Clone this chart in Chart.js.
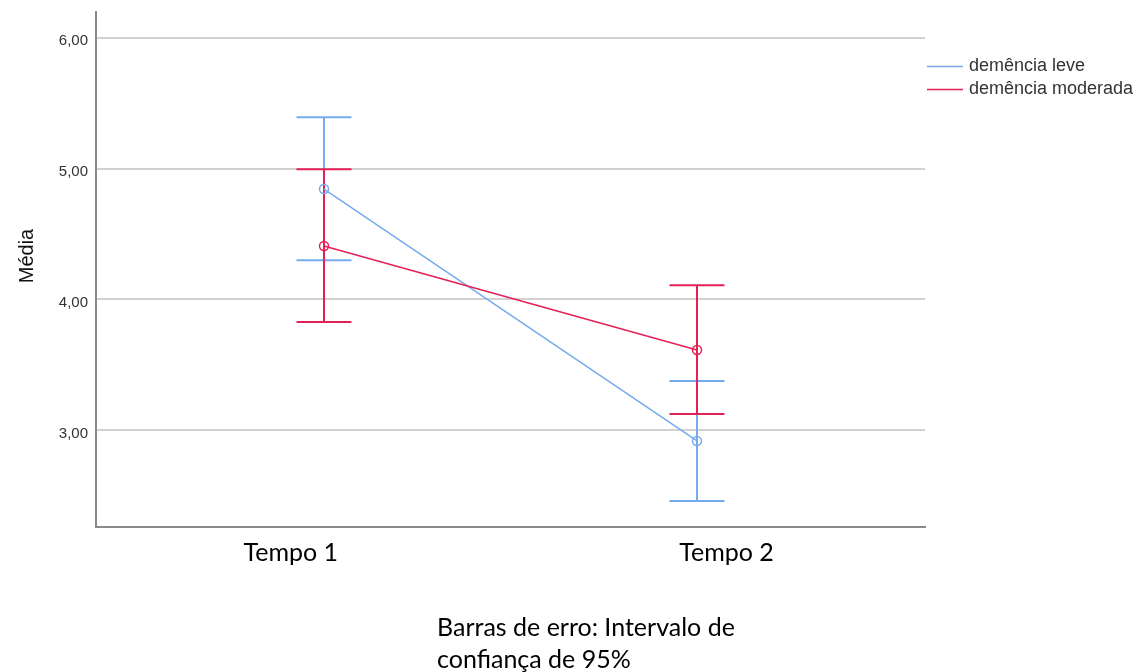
<!DOCTYPE html>
<html>
<head>
<meta charset="utf-8">
<script src="https://cdn.jsdelivr.net/npm/chart.js@4.4.1/dist/chart.umd.min.js"></script>
<style>
html,body{margin:0;padding:0;background:#fff;}
#wrap{position:relative;width:1144px;height:672px;}
</style>
</head>
<body>
<div id="wrap"><canvas id="c" width="1144" height="672"></canvas></div>
<script>
// ---- data ----
const categories = ['Tempo 1', 'Tempo 2'];
const xPositions = [1, 2];
const seriesNames = ['demência leve', 'demência moderada'];
const leveMean  = [4.843, 2.920];
const leveLower = [4.299, 2.462];
const leveUpper = [5.391, 3.378];
const modMean   = [4.408, 3.615];
const modLower  = [3.828, 3.126];
const modUpper  = [4.995, 4.108];
const yTicks = [3, 4, 5, 6];
const footnoteLines = ['Barras de erro: Intervalo de', 'confiança de 95%'];
const yTitle = 'Média';

const BLUE = 'rgb(117,170,236)';
const RED = 'rgb(228,32,84)';

function meanData(m) { return xPositions.map((x, i) => ({x: x, y: m[i]})); }
function errData(lo, hi) {
  const out = [];
  xPositions.forEach((x, i) => {
    out.push({x: x, y: lo[i]});
    out.push({x: x, y: hi[i]});
    out.push({x: x + 0.5, y: null});
  });
  return out;
}

const extras = {
  id: 'extras',
  afterDraw(chart) {
    const ctx = chart.ctx, ca = chart.chartArea;
    ctx.save();
    // legend
    const colors = [BLUE, RED];
    ctx.font = '18px "Liberation Sans", Arial, sans-serif';
    ctx.textBaseline = 'middle';
    ctx.textAlign = 'left';
    seriesNames.forEach((name, i) => {
      const y = 66 + i * 23;
      ctx.strokeStyle = colors[i];
      ctx.lineWidth = 1.5;
      ctx.beginPath();
      ctx.moveTo(ca.right + 2, y + 0.5);
      ctx.lineTo(ca.right + 38, y + 0.5);
      ctx.stroke();
      ctx.fillStyle = '#333';
      ctx.fillText(name, ca.right + 44, y);
    });
    // y title
    ctx.save();
    ctx.font = '20px "Liberation Sans", Arial, sans-serif';
    ctx.fillStyle = '#111';
    ctx.textAlign = 'center';
    ctx.textBaseline = 'alphabetic';
    ctx.translate(33, 256);
    ctx.rotate(-Math.PI / 2);
    ctx.fillText(yTitle, 0, 0);
    ctx.restore();
    // footnote
    ctx.font = '25px Lato, "Open Sans", sans-serif';
    ctx.fillStyle = '#000';
    ctx.textAlign = 'left';
    ctx.textBaseline = 'alphabetic';
    footnoteLines.forEach((t, i) => ctx.fillText(t, 437, 636 + i * 32));
    ctx.restore();
  }
};

new Chart(document.getElementById('c'), {
  type: 'line',
  data: {
    datasets: [
      {label: seriesNames[1], data: meanData(modMean), borderColor: RED, borderWidth: 1.5,
       pointStyle: 'circle', pointRadius: 4.5, pointBorderWidth: 1.5, pointBackgroundColor: 'rgba(0,0,0,0)',
       pointBorderColor: RED, order: 1},
      {label: seriesNames[0], data: meanData(leveMean), borderColor: BLUE, borderWidth: 1.5,
       pointStyle: 'circle', pointRadius: 4.5, pointBorderWidth: 1.5, pointBackgroundColor: 'rgba(0,0,0,0)',
       pointBorderColor: BLUE, order: 2},
      {label: seriesNames[1] + ' IC', data: errData(modLower, modUpper), borderColor: RED, borderWidth: 2,
       pointStyle: 'line', pointRadius: 27.5, pointBorderWidth: 2, pointBorderColor: RED, spanGaps: false, order: 3},
      {label: seriesNames[0] + ' IC', data: errData(leveLower, leveUpper), borderColor: BLUE, borderWidth: 2,
       pointStyle: 'line', pointRadius: 27.5, pointBorderWidth: 2, pointBorderColor: BLUE, spanGaps: false, order: 4}
    ]
  },
  options: {
    responsive: false,
    animation: false,
    devicePixelRatio: 1,
    events: [],
    layout: {autoPadding: false, padding: {top: 12, right: 219, left: 0, bottom: 0}},
    plugins: {legend: {display: false}, tooltip: {enabled: false}, title: {display: false}},
    elements: {line: {tension: 0}, point: {hitRadius: 0, hoverRadius: 0}},
    scales: {
      x: {
        type: 'linear', display: false, min: 0.3887, max: 2.6113,
        afterFit: s => { s.paddingLeft = 0; s.paddingRight = 0; }
      },
      xLabels: {
        type: 'linear', position: 'bottom', axis: 'x', min: 0.5529, max: 2.4556,
        afterBuildTicks: s => { s.ticks = xPositions.map(v => ({value: v})); },
        afterFit: s => { s.height = 145; s.paddingLeft = 0; s.paddingRight = 0; },
        grid: {display: false, drawTicks: false},
        border: {display: true, color: '#8a8a8a', width: 2},
        ticks: {
          callback: v => categories[xPositions.indexOf(v)],
          font: {family: 'Lato, "Open Sans", sans-serif', size: 25},
          color: '#000', padding: 11, maxRotation: 0, autoSkip: false
        }
      },
      y: {
        type: 'linear', min: 2.263, max: 6.195,
        afterBuildTicks: s => { s.ticks = yTicks.map(v => ({value: v})); },
        afterFit: s => { s.width = 96; s.paddingTop = 0; s.paddingBottom = 0; },
        grid: {color: '#d2d2d2', lineWidth: 2, drawTicks: false},
        border: {display: true, color: '#8a8a8a', width: 2},
        ticks: {
          callback: v => v.toFixed(2).replace('.', ','),
          font: {family: '"Liberation Sans", Arial, sans-serif', size: 15},
          color: '#333', padding: 8, labelOffset: 3
        },
        title: {display: false}
      }
    }
  },
  plugins: [extras]
});
</script>
</body>
</html>
